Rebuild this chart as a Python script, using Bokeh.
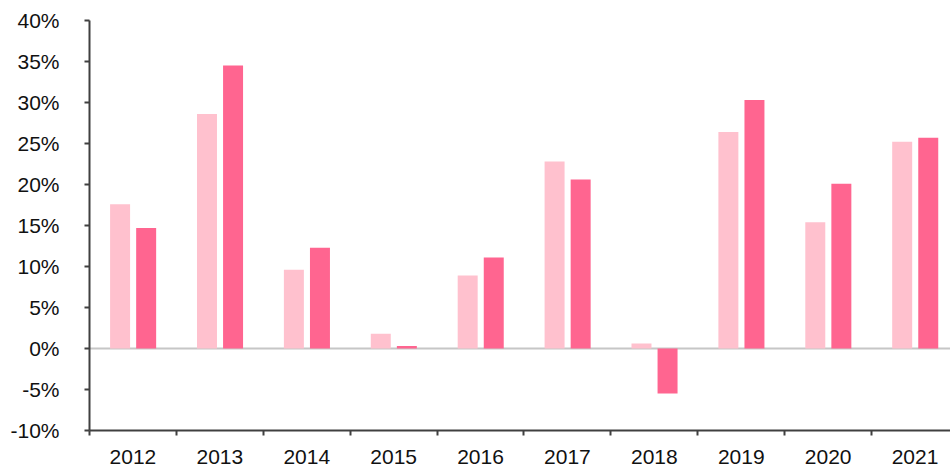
from bokeh.plotting import figure
from bokeh.models import Range1d, FixedTicker, PrintfTickFormatter, Span, ColumnDataSource
from bokeh.embed import file_html
from bokeh.resources import INLINE

years = ["2012", "2013", "2014", "2015", "2016", "2017", "2018", "2019", "2020", "2021"]
series_a = [17.6, 28.6, 9.6, 1.8, 8.9, 22.8, 0.6, 26.4, 15.4, 25.2]
series_b = [14.7, 34.5, 12.3, 0.3, 11.1, 20.6, -5.5, 30.3, 20.1, 25.7]
y_ticks = [-10, -5, 0, 5, 10, 15, 20, 25, 30, 35, 40]

color_a = "#FFC1CE"
color_b = "#FF6590"

idx = list(range(len(years)))
src = ColumnDataSource(dict(
    xa=[i + 0.5 - 0.148 for i in idx],
    xb=[i + 0.5 + 0.152 for i in idx],
    a=series_a,
    b=series_b,
))

p = figure(width=950, height=469, output_backend="svg", toolbar_location=None,
           x_range=Range1d(0, 9.908), y_range=Range1d(-10, 40),
           min_border_left=89, min_border_right=0, min_border_top=20, min_border_bottom=39)
p.outline_line_color = None
p.xgrid.visible = False
p.ygrid.visible = False
p.background_fill_color = "white"
p.border_fill_color = "white"

zero = Span(location=0, dimension="width", line_color="#c6c6c6", line_width=2, level="underlay")
p.add_layout(zero)

p.vbar(x="xa", top="a", bottom=0, width=0.23, source=src, fill_color=color_a, line_color=None)
p.vbar(x="xb", top="b", bottom=0, width=0.23, source=src, fill_color=color_b, line_color=None)

font = "Liberation Sans"
# y axis
p.yaxis.ticker = FixedTicker(ticks=y_ticks, minor_ticks=[])
p.yaxis.formatter = PrintfTickFormatter(format="%d%%")
p.yaxis.axis_line_color = "#404040"
p.yaxis.axis_line_width = 2
p.yaxis.major_tick_line_color = "#404040"
p.yaxis.major_tick_line_width = 2
p.yaxis.major_tick_out = 5
p.yaxis.major_tick_in = 0
p.yaxis.minor_tick_out = 0
p.yaxis.minor_tick_in = 0
p.yaxis.major_label_text_font = font
p.yaxis.major_label_text_font_size = "21px"
p.yaxis.major_label_text_color = "#111111"
p.yaxis.major_label_standoff = 25

# x axis
p.xaxis.ticker = FixedTicker(ticks=[i + 0.5 for i in idx], minor_ticks=list(range(len(years) + 1)))
p.xaxis.major_label_overrides = {i + 0.5: y for i, y in zip(idx, years)}
p.xaxis.axis_line_color = "#404040"
p.xaxis.axis_line_width = 2
p.xaxis.major_tick_out = 0
p.xaxis.major_tick_in = 0
p.xaxis.minor_tick_out = 5
p.xaxis.minor_tick_in = 0
p.xaxis.minor_tick_line_color = "#404040"
p.xaxis.minor_tick_line_width = 2
p.xaxis.major_label_text_font = font
p.xaxis.major_label_text_font_size = "21px"
p.xaxis.major_label_text_color = "#111111"
p.xaxis.major_label_standoff = 14

open("out.html", "w").write(file_html(p, INLINE))
